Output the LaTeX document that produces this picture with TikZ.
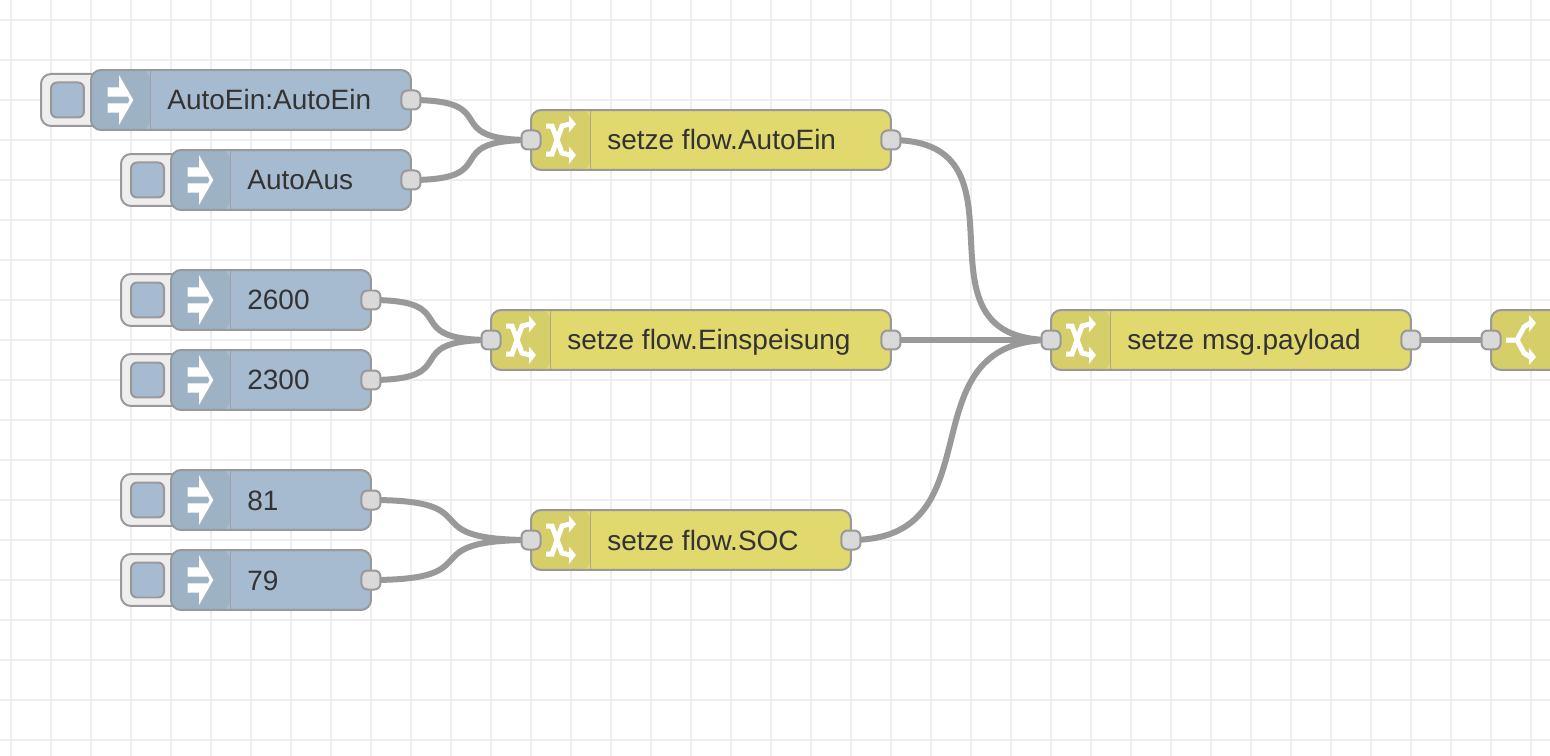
\documentclass[tikz,border=0pt]{standalone}
\usepackage{fontspec}
\setmainfont{Liberation Sans}
\usepackage{xcolor}
\definecolor{injectblue}{RGB}{166,187,207}
\definecolor{injectdark}{RGB}{158,178,197}
\definecolor{changeyellow}{RGB}{226,217,110}
\definecolor{changedark}{RGB}{214,206,105}
\definecolor{edgegray}{RGB}{153,153,153}
\definecolor{portgray}{RGB}{217,217,217}
\definecolor{gridgray}{RGB}{238,238,238}
\definecolor{labeldark}{RGB}{51,51,51}
\usetikzlibrary{positioning,backgrounds}

\begin{document}
\begin{tikzpicture}[x=0.02cm,y=-0.02cm]
  \tikzstyle{gridline}=[draw=gridgray,line width=0.04cm]
  \tikzstyle{wire}=[draw=edgegray,line width=0.12cm]
  \tikzstyle{bodybox}=[rectangle,draw=edgegray,line width=0.04cm,minimum height=1.2cm,rounded corners=0.2cm,outer sep=0pt,inner sep=0pt,anchor=west]
  \tikzstyle{injectbox}=[bodybox,fill=injectblue,path picture={\fill[injectdark] (path picture bounding box.north west) rectangle ++(59,60);}]
  \tikzstyle{changebox}=[bodybox,fill=changeyellow,path picture={\fill[changedark] (path picture bounding box.north west) rectangle ++(59,60);}]
  \tikzstyle{switchbox}=[bodybox,fill=changedark]
  \tikzstyle{btnbox}=[rectangle,draw=edgegray,line width=0.04cm,fill=gridgray,minimum width=1.2cm,minimum height=1.04cm,rounded corners=0.2cm,outer sep=0pt]
  \tikzstyle{btnface}=[rectangle,draw=edgegray,line width=0.04cm,fill=injectblue,minimum width=0.66cm,minimum height=0.7cm,rounded corners=0.12cm,outer sep=0pt,inner sep=0pt]
  \tikzstyle{portbox}=[rectangle,draw=edgegray,line width=0.04cm,fill=portgray,minimum size=0.38cm,rounded corners=0.12cm,inner sep=0pt]
  \tikzstyle{bodytext}=[anchor=west,inner sep=0pt,text=labeldark,text height=0.56cm,text depth=0.16cm,font=\fontsize{15.93}{19}\selectfont]
  \tikzset{
    injecticon/.pic={
      \draw[edgegray,line width=0.02cm,opacity=0.7] (59,0) -- (59,60);
      \fill[white] (28,5) -- (42.3,30) -- (28,55) -- (28,42.7) -- (16.7,42.7) -- (16.7,33.3) -- (37,33.3) -- (38.5,30) -- (37,26.7) -- (16.7,26.7) -- (16.7,17.3) -- (28,17.3) -- cycle;
    },
    changeicon/.pic={
      \draw[edgegray,line width=0.02cm,opacity=0.7] (59,0) -- (59,60);
      \draw[white,line width=0.1cm] (15,16) -- (21,16) -- (31,43) -- (39,45);
      \draw[white,line width=0.1cm] (15,44) -- (21,44) -- (31,16) -- (39,14);
      \fill[white] (38,5.7) -- (45,14) -- (38,22.3) -- cycle;
      \fill[white] (38,36.7) -- (45,45) -- (38,54) -- cycle;
    },
    switchicon/.pic={
      \draw[white,line width=0.1cm] (15,30) -- (26,30) -- (33,17) -- (39,13);
      \draw[white,line width=0.1cm] (26,30) -- (33,43) -- (39,47);
      \fill[white] (38,5) -- (45,13) -- (38,22) -- cycle;
      \fill[white] (38,38) -- (45,47) -- (38,55) -- cycle;
    }
  }

  \path[use as bounding box,clip] (0,0) rectangle (1550,756);

  \begin{scope}[on background layer]
    \fill[white] (0,0) rectangle (1550,756);
    \foreach \gx in {11,51,...,1531} \draw[gridline] (\gx,0) -- (\gx,756);
    \foreach \gy in {20,60,...,740} \draw[gridline] (0,\gy) -- (1550,\gy);
  \end{scope}

  % inject nodes
  \node[btnbox] (autoeinbtn) at (71,100) {};
  \node[btnbox] (autoausbtn) at (151,180) {};
  \node[btnbox] (v2600btn) at (151,300) {};
  \node[btnbox] (v2300btn) at (151,380) {};
  \node[btnbox] (v81btn) at (151,500) {};
  \node[btnbox] (v79btn) at (151,580) {};
  \node[btnface,right=0.2cm of autoeinbtn.west,anchor=west] (autoeinface) {};
  \node[btnface,right=0.2cm of autoausbtn.west,anchor=west] (autoausface) {};
  \node[btnface,right=0.2cm of v2600btn.west,anchor=west] (v2600face) {};
  \node[btnface,right=0.2cm of v2300btn.west,anchor=west] (v2300face) {};
  \node[btnface,right=0.2cm of v81btn.west,anchor=west] (v81face) {};
  \node[btnface,right=0.2cm of v79btn.west,anchor=west] (v79face) {};

  \node[injectbox,minimum width=6.4cm] (autoein) at (91,100) {};
  \node[injectbox,minimum width=4.8cm] (autoaus) at (171,180) {};
  \node[injectbox,minimum width=4cm] (v2600) at (171,300) {};
  \node[injectbox,minimum width=4cm] (v2300) at (171,380) {};
  \node[injectbox,minimum width=4cm] (v81) at (171,500) {};
  \node[injectbox,minimum width=4cm] (v79) at (171,580) {};
  \pic at (autoein.north west) {injecticon};
  \pic at (autoaus.north west) {injecticon};
  \pic at (v2600.north west) {injecticon};
  \pic at (v2300.north west) {injecticon};
  \pic at (v81.north west) {injecticon};
  \pic at (v79.north west) {injecticon};

  % change nodes
  \node[changebox,minimum width=7.2cm] (flowautoein) at (531,140) {};
  \node[changebox,minimum width=8cm] (floweinsp) at (491,340) {};
  \node[changebox,minimum width=6.4cm] (flowsoc) at (531,540) {};
  \node[changebox,minimum width=7.2cm] (msgpayload) at (1051,340) {};
  \node[switchbox,minimum width=2cm] (switchnode) at (1491,340) {};
  \pic at (flowautoein.north west) {changeicon};
  \pic at (floweinsp.north west) {changeicon};
  \pic at (flowsoc.north west) {changeicon};
  \pic at (msgpayload.north west) {changeicon};
  \pic at (switchnode.north west) {switchicon};

  % labels
  \node[bodytext,right=1.52cm of autoein.west] (autoeintext) {AutoEin:AutoEin};
  \node[bodytext,right=1.52cm of autoaus.west] (autoaustext) {AutoAus};
  \node[bodytext,right=1.52cm of v2600.west] (v2600text) {2600};
  \node[bodytext,right=1.52cm of v2300.west] (v2300text) {2300};
  \node[bodytext,right=1.52cm of v81.west] (v81text) {81};
  \node[bodytext,right=1.52cm of v79.west] (v79text) {79};
  \node[bodytext,right=1.52cm of flowautoein.west] (flowautoeintext) {setze flow.AutoEin};
  \node[bodytext,right=1.52cm of floweinsp.west] (floweinsptext) {setze flow.Einspeisung};
  \node[bodytext,right=1.52cm of flowsoc.west] (flowsoctext) {setze flow.SOC};
  \node[bodytext,right=1.52cm of msgpayload.west] (msgpayloadtext) {setze msg.payload};

  % ports
  \node[portbox] (autoeinout) at (autoein.east) {};
  \node[portbox] (autoausout) at (autoaus.east) {};
  \node[portbox] (v2600out) at (v2600.east) {};
  \node[portbox] (v2300out) at (v2300.east) {};
  \node[portbox] (v81out) at (v81.east) {};
  \node[portbox] (v79out) at (v79.east) {};
  \node[portbox] (flowautoeinin) at (flowautoein.west) {};
  \node[portbox] (flowautoeinout) at (flowautoein.east) {};
  \node[portbox] (floweinspin) at (floweinsp.west) {};
  \node[portbox] (floweinspout) at (floweinsp.east) {};
  \node[portbox] (flowsocin) at (flowsoc.west) {};
  \node[portbox] (flowsocout) at (flowsoc.east) {};
  \node[portbox] (msgpayloadin) at (msgpayload.west) {};
  \node[portbox] (msgpayloadout) at (msgpayload.east) {};
  \node[portbox] (switchin) at (switchnode.west) {};

  % wires
  \begin{scope}[on background layer]
    \draw[wire] (autoeinout.center) .. controls +(94.9,0) and +(-94.9,0) .. (flowautoeinin.center);
    \draw[wire] (autoausout.center) .. controls +(94.9,0) and +(-94.9,0) .. (flowautoeinin.center);
    \draw[wire] (v2600out.center) .. controls +(94.9,0) and +(-94.9,0) .. (floweinspin.center);
    \draw[wire] (v2300out.center) .. controls +(94.9,0) and +(-94.9,0) .. (floweinspin.center);
    \draw[wire] (v81out.center) .. controls +(123.7,0) and +(-123.7,0) .. (flowsocin.center);
    \draw[wire] (v79out.center) .. controls +(123.7,0) and +(-123.7,0) .. (flowsocin.center);
    \draw[wire] (flowautoeinout.center) .. controls +(150,0) and +(-150,0) .. (msgpayloadin.center);
    \draw[wire] (floweinspout.center) -- (msgpayloadin.center);
    \draw[wire] (flowsocout.center) .. controls +(150,0) and +(-150,0) .. (msgpayloadin.center);
    \draw[wire] (msgpayloadout.center) -- (switchin.center);
  \end{scope}
\end{tikzpicture}
\end{document}
